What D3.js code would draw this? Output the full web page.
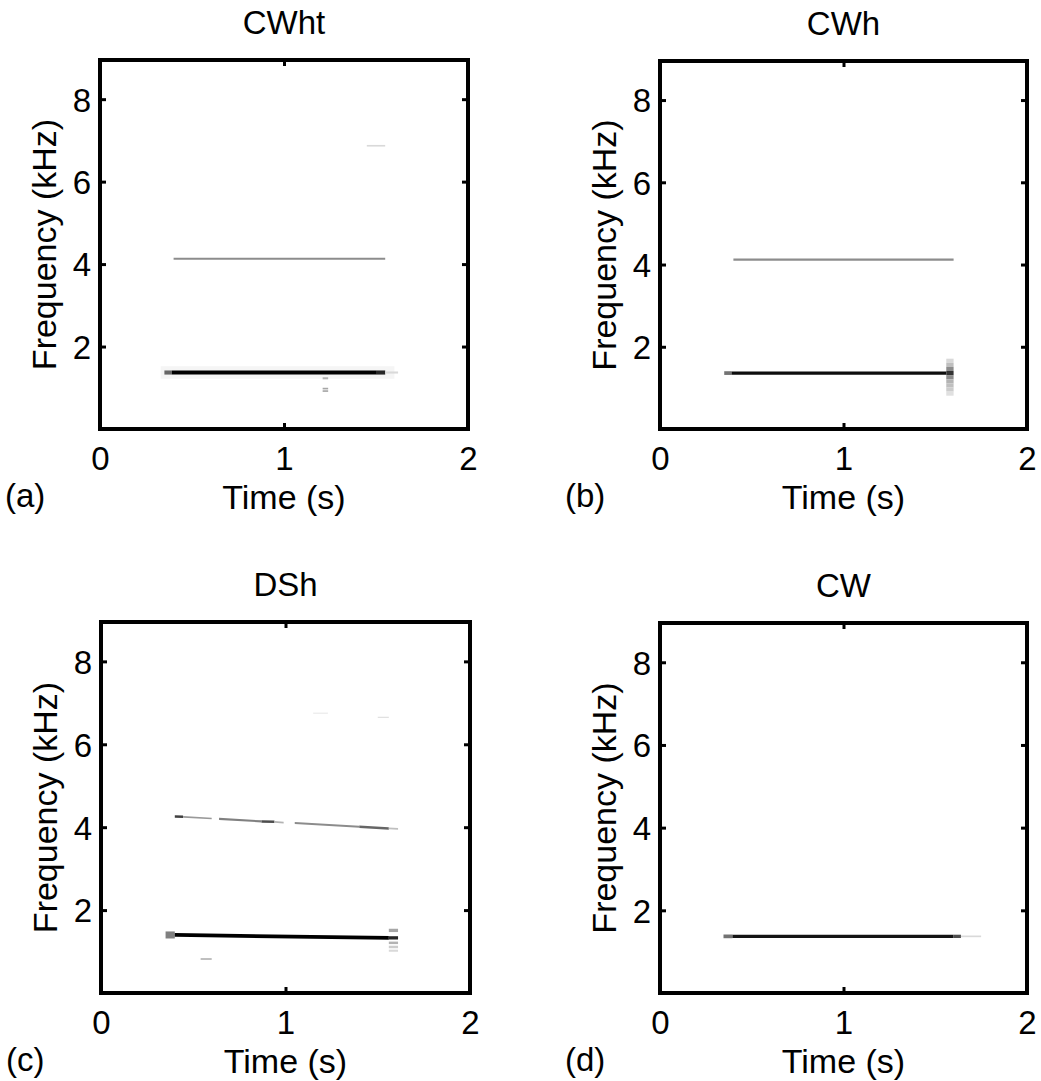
<!DOCTYPE html>
<html>
<head>
<meta charset="utf-8">
<script src="https://cdn.jsdelivr.net/npm/d3@7"></script>
<style>
  html, body { margin: 0; padding: 0; background: #fff; }
  svg { display: block; }
  text { font-family: "Liberation Sans", Arial, sans-serif; fill: #000; }
</style>
</head>
<body>
<svg id="chart" width="1041" height="1081"></svg>
<script>
// ---------------- DATA ----------------
const panelTitles  = ["CWht", "CWh", "DSh", "CW"];
const panelLetters = ["(a)", "(b)", "(c)", "(d)"];
const timeTicks = [0, 1, 2];
const freqTicks = [2, 4, 6, 8];
const timeDomain = [0, 2];
const freqDomain = [0, 8.95];

// each track: [tStart (s), tEnd (s), fStart (kHz), fEnd (kHz), bandwidth (kHz), intensity 0..1]
const tracksA = [
  [0.33, 1.60, 1.37, 1.37, 0.30, 0.04],
  [0.35, 0.39, 1.37, 1.37, 0.10, 0.60],
  [0.39, 1.50, 1.37, 1.37, 0.10, 1.00],
  [1.50, 1.55, 1.37, 1.37, 0.10, 0.85],
  [1.55, 1.62, 1.37, 1.37, 0.05, 0.15],
  [0.40, 1.55, 4.13, 4.13, 0.05, 0.45],
  [1.45, 1.55, 6.87, 6.87, 0.04, 0.15],
  [1.21, 1.24, 1.23, 1.23, 0.05, 0.30],
  [1.21, 1.24, 0.98, 0.98, 0.04, 0.35],
  [1.21, 1.24, 0.92, 0.92, 0.04, 0.35]
];
const tracksB = [
  [0.35, 0.39, 1.36, 1.36, 0.09, 0.55],
  [0.39, 1.56, 1.36, 1.36, 0.08, 0.95],
  [0.40, 1.60, 4.12, 4.12, 0.05, 0.45],
  [1.56, 1.60, 1.66, 1.66, 0.10, 0.15],
  [1.56, 1.60, 1.56, 1.56, 0.10, 0.25],
  [1.56, 1.60, 1.46, 1.46, 0.10, 0.45],
  [1.56, 1.60, 1.36, 1.36, 0.10, 0.80],
  [1.56, 1.60, 1.26, 1.26, 0.10, 0.45],
  [1.56, 1.60, 1.16, 1.16, 0.10, 0.30],
  [1.56, 1.60, 1.06, 1.06, 0.10, 0.25],
  [1.56, 1.60, 0.96, 0.96, 0.10, 0.20],
  [1.56, 1.60, 0.86, 0.86, 0.10, 0.12]
];
const tracksC = [
  [0.35, 0.40, 1.40, 1.40, 0.17, 0.50],
  [0.40, 1.56, 1.40, 1.33, 0.09, 1.00],
  [1.56, 1.61, 1.51, 1.51, 0.08, 0.35],
  [1.56, 1.61, 1.33, 1.33, 0.08, 0.85],
  [1.56, 1.61, 1.21, 1.21, 0.06, 0.30],
  [1.56, 1.61, 1.11, 1.11, 0.06, 0.20],
  [1.56, 1.61, 1.02, 1.02, 0.05, 0.15],
  [0.40, 0.445, 4.26, 4.25, 0.06, 0.75],
  [0.445, 0.60, 4.25, 4.21, 0.04, 0.40],
  [0.64, 0.87, 4.20, 4.14, 0.05, 0.50],
  [0.87, 0.94, 4.14, 4.13, 0.06, 0.70],
  [0.94, 0.99, 4.13, 4.11, 0.04, 0.30],
  [1.05, 1.40, 4.10, 4.01, 0.05, 0.45],
  [1.40, 1.56, 4.01, 3.97, 0.06, 0.60],
  [1.56, 1.61, 3.97, 3.96, 0.04, 0.25],
  [0.54, 0.60, 0.82, 0.82, 0.04, 0.30],
  [1.15, 1.23, 6.75, 6.75, 0.03, 0.08],
  [1.50, 1.56, 6.65, 6.65, 0.03, 0.12]
];
const tracksD = [
  [0.346, 0.395, 1.37, 1.37, 0.09, 0.55],
  [0.395, 1.60, 1.37, 1.37, 0.08, 0.92],
  [1.60, 1.64, 1.37, 1.37, 0.08, 0.70],
  [1.64, 1.75, 1.37, 1.37, 0.04, 0.15]
];
const panelTracks = [tracksA, tracksB, tracksC, tracksD];

// ---------------- LAYOUT ----------------
const svg = d3.select("#chart");
const panels = [
  { left: 100, top: 60,  width: 368, bottom: 429 },
  { left: 660, top: 61,  width: 367, bottom: 429 },
  { left: 101, top: 622, width: 369, bottom: 993 },
  { left: 660, top: 623, width: 367, bottom: 993 }
];
const shade = d3.scaleLinear().domain([0, 1]).range(["#ffffff", "#000000"]).clamp(true);

panels.forEach((p, i) => {
  const x = d3.scaleLinear().domain(timeDomain).range([p.left, p.left + p.width]);
  const y = d3.scaleLinear().domain(freqDomain).range([p.bottom, p.top]);
  const g = svg.append("g");

  const clipId = "clip" + i;
  svg.append("clipPath").attr("id", clipId)
    .append("rect").attr("x", p.left).attr("y", p.top)
    .attr("width", p.width).attr("height", p.bottom - p.top);

  const area = d3.area()
    .x(d => x(d.t))
    .y0(d => y(d.f - d.bw / 2))
    .y1(d => y(d.f + d.bw / 2));

  g.append("g").attr("clip-path", `url(#${clipId})`)
    .selectAll("path")
    .data(panelTracks[i])
    .join("path")
    .attr("d", d => area([
      { t: d[0], f: d[2], bw: d[4] },
      { t: d[1], f: d[3], bw: d[4] }
    ]))
    .attr("fill", d => shade(d[5]))
    .attr("stroke", "none");

  // axes with inward ticks
  const font = "33px";
  const fmt = d3.format("d");
  const left = g.append("g").attr("transform", `translate(${p.left},0)`)
    .call(d3.axisLeft(y).tickValues(freqTicks).tickSize(-6).tickPadding(9).tickFormat(fmt));
  const right = g.append("g").attr("transform", `translate(${p.left + p.width},0)`)
    .call(d3.axisRight(y).tickValues(freqTicks).tickSize(-6).tickFormat(""));
  const bottom = g.append("g").attr("transform", `translate(0,${p.bottom})`)
    .call(d3.axisBottom(x).tickValues(timeTicks).tickSize(-6).tickPadding(8).tickFormat(fmt));
  const top = g.append("g").attr("transform", `translate(0,${p.top})`)
    .call(d3.axisTop(x).tickValues(timeTicks).tickSize(-6).tickFormat(""));
  [left, right, bottom, top].forEach(a => {
    a.select(".domain").remove();
    a.selectAll(".tick line").attr("stroke", "#000").attr("stroke-width", 3);
    a.selectAll(".tick text")
      .attr("font-family", "Liberation Sans, Arial, sans-serif")
      .attr("font-size", font).attr("fill", "#000");
  });
  left.selectAll(".tick text").attr("dy", "0.36em");
  bottom.selectAll(".tick text").attr("dy", null).attr("y", 41);

  // frame
  g.append("rect")
    .attr("x", p.left).attr("y", p.top)
    .attr("width", p.width).attr("height", p.bottom - p.top)
    .attr("fill", "none").attr("stroke", "#000").attr("stroke-width", 4);

  // title
  g.append("text")
    .attr("x", p.left + p.width / 2).attr("y", p.top - 26)
    .attr("text-anchor", "middle").attr("font-size", "33px")
    .text(panelTitles[i]);

  // axis labels
  g.append("text")
    .attr("x", p.left + p.width / 2).attr("y", p.bottom + 80)
    .attr("text-anchor", "middle").attr("font-size", "34px")
    .text("Time (s)");
  g.append("text")
    .attr("transform", `translate(${p.left - 44},${(p.top + p.bottom) / 2}) rotate(-90)`)
    .attr("text-anchor", "middle").attr("font-size", "34px")
    .text("Frequency (kHz)");

  // panel letter
  g.append("text")
    .attr("x", p.left - 95).attr("y", p.bottom + 78)
    .attr("font-size", "33px")
    .text(panelLetters[i]);
});
</script>
</body>
</html>
